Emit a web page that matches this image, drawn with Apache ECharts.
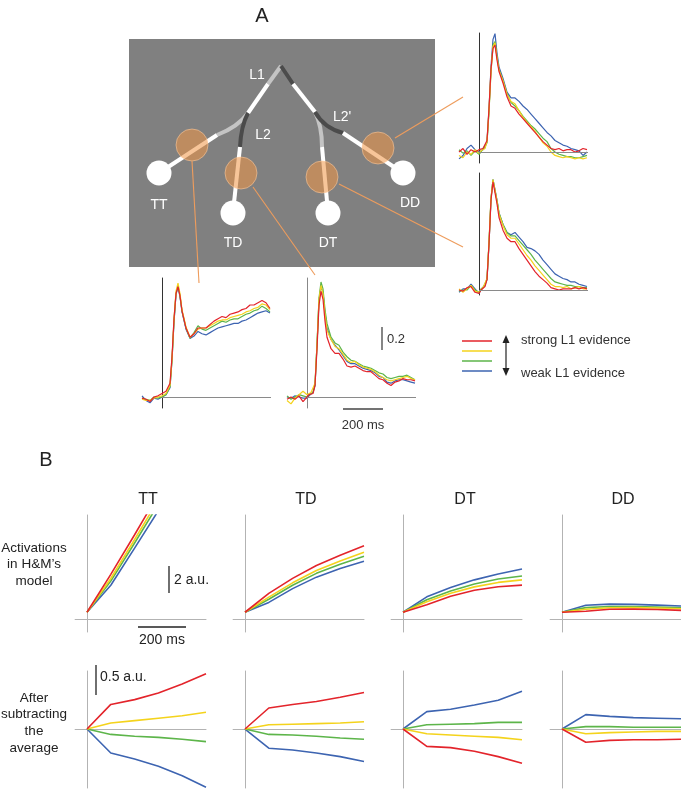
<!DOCTYPE html>
<html><head><meta charset="utf-8">
<script src="https://cdn.jsdelivr.net/npm/echarts@6/dist/echarts.min.js"></script>
<style>html,body{margin:0;padding:0;background:#fff}#c{width:681px;height:789px}</style>
</head><body><div id="c"></div>
<script>
// ---------- Panel A: recorded traces (time in ms, normalized rate) ----------
const tA = [-100,-80,-60,-40,-20,0,10,20,30,40,50,60,70,80,90,100,120,140,160,180,200,220,240,260,280,300,320,340,360,380,400,420,440,460,480,500,520,540];

const aTT_red    = [-0.01,-0.02,-0.04,0.00,0.01,0.03,0.04,0.05,0.06,0.12,0.35,0.68,0.90,0.96,0.88,0.75,0.60,0.52,0.55,0.60,0.60,0.60,0.63,0.66,0.68,0.70,0.69,0.72,0.73,0.74,0.76,0.77,0.80,0.80,0.82,0.84,0.82,0.77];
const aTT_yellow = [-0.02,-0.03,-0.03,-0.01,0.00,0.01,0.02,0.03,0.04,0.10,0.33,0.68,0.92,0.99,0.90,0.76,0.61,0.52,0.55,0.59,0.60,0.60,0.62,0.64,0.66,0.67,0.67,0.69,0.70,0.71,0.72,0.74,0.75,0.77,0.78,0.81,0.80,0.76];
const aTT_green  = [-0.01,-0.02,-0.03,0.00,-0.01,0.00,0.01,0.02,0.03,0.09,0.32,0.66,0.90,0.97,0.88,0.75,0.60,0.51,0.56,0.62,0.59,0.58,0.60,0.62,0.64,0.66,0.65,0.67,0.68,0.68,0.70,0.72,0.73,0.75,0.76,0.79,0.77,0.74];
const aTT_blue   = [0.01,-0.03,-0.05,-0.01,-0.02,0.00,0.00,0.02,0.03,0.08,0.32,0.65,0.89,0.96,0.87,0.74,0.59,0.51,0.53,0.57,0.55,0.54,0.56,0.58,0.60,0.61,0.62,0.63,0.64,0.64,0.66,0.67,0.69,0.71,0.73,0.74,0.75,0.73];

const aTD_red    = [-0.02,0.00,-0.02,0.01,-0.04,0.00,0.02,0.03,0.03,0.10,0.42,0.80,0.92,0.85,0.66,0.52,0.42,0.38,0.38,0.33,0.27,0.26,0.27,0.25,0.23,0.22,0.22,0.19,0.16,0.15,0.12,0.10,0.13,0.14,0.16,0.15,0.15,0.14];
const aTD_yellow = [-0.03,-0.06,-0.01,0.02,0.05,0.02,0.03,0.04,0.05,0.12,0.46,0.85,0.97,0.90,0.72,0.58,0.50,0.44,0.42,0.37,0.32,0.30,0.31,0.28,0.26,0.25,0.24,0.22,0.19,0.17,0.15,0.14,0.15,0.16,0.17,0.18,0.16,0.15];
const aTD_green  = [0.01,-0.02,0.00,0.02,0.01,0.00,0.02,0.03,0.04,0.11,0.46,0.86,1.00,0.94,0.76,0.64,0.52,0.47,0.45,0.39,0.35,0.32,0.31,0.29,0.27,0.26,0.25,0.23,0.21,0.20,0.17,0.16,0.17,0.18,0.18,0.19,0.17,0.15];
const aTD_blue   = [0.00,-0.01,0.01,0.00,-0.01,-0.01,0.01,0.02,0.04,0.10,0.45,0.84,0.96,0.91,0.73,0.60,0.50,0.45,0.41,0.36,0.31,0.29,0.29,0.27,0.25,0.24,0.23,0.21,0.18,0.17,0.13,0.12,0.14,0.15,0.15,0.14,0.13,0.12];

const aDT_red    = [0.00,-0.01,0.02,0.03,-0.02,-0.03,0.00,0.01,0.03,0.09,0.40,0.78,0.94,0.93,0.75,0.63,0.52,0.45,0.42,0.42,0.36,0.31,0.26,0.21,0.16,0.12,0.09,0.06,0.02,0.01,0.00,0.01,0.01,0.01,0.02,0.01,0.02,0.01];
const aDT_yellow = [0.01,-0.02,0.01,0.04,-0.01,-0.02,0.00,0.02,0.03,0.10,0.42,0.80,0.96,0.95,0.77,0.66,0.56,0.48,0.45,0.45,0.40,0.35,0.30,0.26,0.21,0.17,0.13,0.09,0.05,0.03,0.03,0.02,0.03,0.01,0.02,0.03,0.01,0.01];
const aDT_green  = [-0.01,0.00,0.00,0.04,0.00,-0.02,0.01,0.02,0.04,0.10,0.41,0.80,0.96,0.96,0.78,0.67,0.57,0.50,0.47,0.47,0.43,0.39,0.35,0.31,0.26,0.22,0.18,0.14,0.10,0.07,0.06,0.05,0.04,0.04,0.03,0.03,0.02,0.02];
const aDT_blue   = [-0.02,0.01,0.01,0.05,0.01,-0.03,0.00,0.02,0.03,0.09,0.40,0.79,0.96,0.97,0.78,0.67,0.57,0.50,0.48,0.50,0.46,0.42,0.37,0.36,0.34,0.31,0.26,0.22,0.18,0.14,0.12,0.10,0.09,0.07,0.07,0.05,0.04,0.03];

const aDD_red    = [0.00,0.03,-0.02,0.02,0.00,0.02,0.01,0.03,0.04,0.10,0.38,0.72,0.90,0.93,0.80,0.70,0.60,0.48,0.40,0.38,0.33,0.29,0.25,0.21,0.17,0.13,0.09,0.06,0.03,0.02,0.03,0.01,0.02,0.02,0.00,0.01,0.03,0.02];
const aDD_yellow = [-0.03,-0.05,0.00,-0.02,0.02,-0.01,0.01,0.02,0.03,0.09,0.36,0.70,0.92,0.95,0.82,0.71,0.62,0.50,0.44,0.42,0.36,0.30,0.26,0.22,0.18,0.13,0.08,0.05,0.00,-0.03,-0.04,-0.05,-0.04,-0.05,-0.06,-0.05,-0.06,-0.05];
const aDD_green  = [0.02,-0.01,0.01,-0.03,0.01,-0.02,0.00,0.03,0.02,0.08,0.35,0.70,0.93,0.96,0.83,0.72,0.62,0.51,0.43,0.40,0.36,0.31,0.27,0.23,0.20,0.16,0.12,0.09,0.03,0.00,-0.02,-0.03,-0.04,-0.04,-0.05,-0.05,-0.04,-0.03];
const aDD_blue   = [-0.06,-0.03,0.03,0.06,0.02,0.00,0.01,0.02,0.04,0.09,0.37,0.74,0.98,1.03,0.86,0.74,0.64,0.52,0.47,0.47,0.44,0.40,0.37,0.33,0.29,0.25,0.21,0.17,0.14,0.10,0.08,0.06,0.05,0.03,0.02,0.01,-0.03,0.00];

// ---------- Panel B: model (time in ms, a.u.) ----------
const tB = [0,100,200,300,400,500];

const bTopTT_red    = [0.5,3.31,6.24,9.25,12.25,15.2];
const bTopTT_yellow = [0.5,3.0,5.89,8.83,11.72,14.58];
const bTopTT_green  = [0.5,2.81,5.63,8.51,11.33,14.09];
const bTopTT_blue   = [0.5,2.5,5.25,8.03,10.88,13.33];
const bTopTD_red    = [0.5,1.90,3.01,3.96,4.73,5.43];
const bTopTD_yellow = [0.5,1.62,2.68,3.59,4.30,4.94];
const bTopTD_green  = [0.5,1.46,2.50,3.38,4.05,4.65];
const bTopTD_blue   = [0.5,1.23,2.25,3.10,3.74,4.28];
const bTopDT_red    = [0.5,1.06,1.69,2.13,2.39,2.51];
const bTopDT_yellow = [0.5,1.27,1.90,2.38,2.71,2.90];
const bTopDT_green  = [0.5,1.42,2.08,2.59,2.96,3.19];
const bTopDT_blue   = [0.5,1.64,2.33,2.90,3.33,3.71];
const bTopDD_red    = [0.5,0.57,0.72,0.73,0.70,0.64];
const bTopDD_yellow = [0.5,0.72,0.83,0.84,0.81,0.76];
const bTopDD_green  = [0.5,0.84,0.93,0.92,0.88,0.83];
const bTopDD_blue   = [0.5,1.02,1.10,1.08,1.03,0.96];

const bBotTT_red    = [0,0.41,0.49,0.60,0.75,0.92];
const bBotTT_yellow = [0,0.10,0.14,0.18,0.22,0.28];
const bBotTT_green  = [0,-0.09,-0.12,-0.14,-0.17,-0.21];
const bBotTT_blue   = [0,-0.40,-0.50,-0.62,-0.78,-0.97];
const bBotTD_red    = [0,0.35,0.41,0.46,0.53,0.61];
const bBotTD_yellow = [0,0.07,0.08,0.09,0.10,0.12];
const bBotTD_green  = [0,-0.09,-0.10,-0.12,-0.15,-0.17];
const bBotTD_blue   = [0,-0.32,-0.35,-0.40,-0.46,-0.54];
const bBotDT_red    = [0,-0.29,-0.31,-0.37,-0.46,-0.57];
const bBotDT_yellow = [0,-0.08,-0.10,-0.12,-0.14,-0.18];
const bBotDT_green  = [0,0.07,0.08,0.09,0.11,0.11];
const bBotDT_blue   = [0,0.29,0.33,0.40,0.48,0.63];
const bBotDD_red    = [0,-0.22,-0.19,-0.18,-0.18,-0.17];
const bBotDD_yellow = [0,-0.08,-0.06,-0.05,-0.04,-0.04];
const bBotDD_green  = [0,0.04,0.04,0.03,0.03,0.03];
const bBotDD_blue   = [0,0.24,0.21,0.19,0.18,0.17];

const conditions = ['TT','TD','DT','DD'];
const rowLabelsB = [['Activations','in H\u0026M\u2019s','model'],['After','subtracting','the','average']];
const legendTexts = ['strong L1 evidence','weak L1 evidence'];

// ---------- styling / layout ----------
const FONT = "'Liberation Sans', Arial, Helvetica, sans-serif";
const COL = {red:'#e3242b', yellow:'#f4d31c', green:'#5db54a', blue:'#3d64b1'};
const ORDER = ['blue','green','yellow','red'];

const panels = [
  // panel A
  {t:tA, d:{red:aTT_red,yellow:aTT_yellow,green:aTT_green,blue:aTT_blue}, g:[142,278,130,130], x:[-100,550], y:[-0.0957,1.035], A:true, yc:'#333'},
  {t:tA, d:{red:aTD_red,yellow:aTD_yellow,green:aTD_green,blue:aTD_blue}, g:[287,278,130,130], x:[-100,550], y:[-0.0957,1.035], A:true, yc:'#888'},
  {t:tA, d:{red:aDD_red,yellow:aDD_yellow,green:aDD_green,blue:aDD_blue}, g:[459,33,130,130],  x:[-100,550], y:[-0.0957,1.035], A:true, yc:'#333'},
  {t:tA, d:{red:aDT_red,yellow:aDT_yellow,green:aDT_green,blue:aDT_blue}, g:[459,173,130,122], x:[-100,550], y:[-0.0435,1.017], A:true, yc:'#333'},
  // panel B top
  {t:tB, d:{red:bTopTT_red,yellow:bTopTT_yellow,green:bTopTT_green,blue:bTopTT_blue}, g:[75.1,515,130.9,117], x:[-50,500], y:[-0.963,7.704]},
  {t:tB, d:{red:bTopTD_red,yellow:bTopTD_yellow,green:bTopTD_green,blue:bTopTD_blue}, g:[233.1,515,130.9,117], x:[-50,500], y:[-0.963,7.704]},
  {t:tB, d:{red:bTopDT_red,yellow:bTopDT_yellow,green:bTopDT_green,blue:bTopDT_blue}, g:[391.1,515,130.9,117], x:[-50,500], y:[-0.963,7.704]},
  {t:tB, d:{red:bTopDD_red,yellow:bTopDD_yellow,green:bTopDD_green,blue:bTopDD_blue}, g:[550.1,515,130.9,117], x:[-50,500], y:[-0.963,7.704]},
  // panel B bottom
  {t:tB, d:{red:bBotTT_red,yellow:bBotTT_yellow,green:bBotTT_green,blue:bBotTT_blue}, g:[75.1,671,130.9,117], x:[-50,500], y:[-0.983,0.967]},
  {t:tB, d:{red:bBotTD_red,yellow:bBotTD_yellow,green:bBotTD_green,blue:bBotTD_blue}, g:[233.1,671,130.9,117], x:[-50,500], y:[-0.983,0.967]},
  {t:tB, d:{red:bBotDT_red,yellow:bBotDT_yellow,green:bBotDT_green,blue:bBotDT_blue}, g:[391.1,671,130.9,117], x:[-50,500], y:[-0.983,0.967]},
  {t:tB, d:{red:bBotDD_red,yellow:bBotDD_yellow,green:bBotDD_green,blue:bBotDD_blue}, g:[550.1,671,130.9,117], x:[-50,500], y:[-0.983,0.967]}
];

const grid = [], xAxis = [], yAxis = [], series = [];
panels.forEach((p, i) => {
  grid.push({left:p.g[0], top:p.g[1], width:p.g[2], height:p.g[3], containLabel:false, outerBoundsMode:'none'});
  const hidden = {axisTick:{show:false}, axisLabel:{show:false}, splitLine:{show:false}};
  xAxis.push(Object.assign({type:'value', gridIndex:i, min:p.x[0], max:p.x[1],
    axisLine:{show:!p.A, onZero:true, lineStyle:{color:'#b3b3b3', width:1}}}, hidden));
  yAxis.push(Object.assign({type:'value', gridIndex:i, min:p.y[0], max:p.y[1],
    axisLine:{show:true, onZero:true, lineStyle:{color:p.A ? p.yc : '#b3b3b3', width:1}}}, hidden));
  ORDER.forEach((c, k) => {
    const s = {type:'line', xAxisIndex:i, yAxisIndex:i, symbol:'none', silent:true, animation:false,
      clip:true, z:3,
      data:p.t.map((tv, j) => [tv, p.d[c][j]]),
      lineStyle:{color:COL[c], width:p.A ? 1.2 : 1.6}};
    if (p.A && k === 0) {
      s.markLine = {silent:true, symbol:['none','none'], animation:false, label:{show:false},
        lineStyle:{color:'#8a8a8a', width:1, type:'solid'},
        data:[[{coord:[0,0]},{coord:[545,0]}]]};
    }
    series.push(s);
  });
});

// ---------- annotation graphics ----------
const G = [];
const txt = (s, x, y, size, fill, align, extra) => G.push(Object.assign({type:'text', x:x, y:y, z:10,
  style:{text:s, fill:fill, font:size + 'px ' + FONT, textAlign:align || 'center', textVerticalAlign:'middle', align:align || 'center', verticalAlign:'middle'}}, extra || {}));
const seg = (x1,y1,x2,y2,color,w) => G.push({type:'line', z:5, shape:{x1,y1,x2,y2}, style:{stroke:color, lineWidth:w||4, lineCap:'butt'}});
const curve = (x1,y1,cx,cy,x2,y2,color) => G.push({type:'bezierCurve', z:5, shape:{x1,y1,x2,y2,cpx1:cx,cpy1:cy}, style:{stroke:color, lineWidth:4, fill:null, lineCap:'butt'}});

// panel letters
txt('A', 262, 16, 20, '#222');
txt('B', 46, 460, 20, '#222');

// gray box with tree
G.push({type:'rect', z:1, shape:{x:129, y:39, width:306, height:228}, style:{fill:'#808080'}});
const LG = '#c4c4c4', DG = '#4b4b4b', W = '#ffffff';
seg(281,66,268,84,LG); seg(268,84,248,113,W);
seg(281,66,293,84,DG); seg(293,84,315,112,W);
curve(248,113,238,127,217,135,LG); seg(217,135,159,173,W);
curve(248,113,241,126,240,147,DG); seg(240,147,233,212,W);
curve(315,112,322,126,322,147,LG); seg(322,147,328,212,W);
curve(315,112,324,128,343,133,DG); seg(343,133,403,173,W);
[[159,173],[233,213],[328,213],[403,173]].forEach(c => G.push({type:'circle', z:6, shape:{cx:c[0], cy:c[1], r:12.5}, style:{fill:'#fff'}}));
[[192,145],[241,173],[322,177],[378,148]].forEach(c => G.push({type:'circle', z:7, shape:{cx:c[0], cy:c[1], r:16}, style:{fill:'rgba(240,150,70,0.55)', stroke:'rgba(255,205,160,0.7)', lineWidth:0.8}}));
txt('L1', 257, 75, 14, '#fff'); txt('L2', 263, 135, 14, '#fff'); txt("L2'", 342, 117, 14, '#fff');
txt(conditions[0], 159, 205, 14, '#fff'); txt(conditions[1], 233, 243, 14, '#fff');
txt(conditions[2], 328, 243, 14, '#fff'); txt(conditions[3], 410, 203, 14, '#fff');
// orange connectors
const OR = '#ee9c5c';
[[192,161,199,283],[253,187,315,275],[339,184,463,247],[395,138,463,97]].forEach(l => G.push({type:'line', z:8, shape:{x1:l[0],y1:l[1],x2:l[2],y2:l[3]}, style:{stroke:OR, lineWidth:1.1}}));

// panel A scale bars
seg(382,327,382,350,'#444',1.3); txt('0.2', 387, 339, 13, '#333', 'left');
seg(343,409,383,409,'#444',1.3); txt('200 ms', 363, 425, 13, '#333');

// legend
[['red',341],['yellow',351],['green',361],['blue',371]].forEach(l => seg(462,l[1],492,l[1],COL[l[0]],1.5));
seg(506,342,506,369,'#222',1.2);
G.push({type:'polygon', z:6, shape:{points:[[506,335],[502.5,343],[509.5,343]]}, style:{fill:'#222'}});
G.push({type:'polygon', z:6, shape:{points:[[506,376],[502.5,368],[509.5,368]]}, style:{fill:'#222'}});
txt(legendTexts[0], 521, 340, 13, '#333', 'left');
txt(legendTexts[1], 521, 373, 13, '#333', 'left');

// panel B titles
[148,306,465,623].forEach((x, i) => txt(conditions[i], x, 500, 16, '#222'));
// row labels
rowLabelsB[0].forEach((s, i) => txt(s, 34, 548 + i * 16.6, 13.5, '#222'));
rowLabelsB[1].forEach((s, i) => txt(s, 34, 698 + i * 16.6, 13.5, '#222'));
// panel B scale bars
seg(138,627,186,627,'#222',1.3); txt('200 ms', 162, 640, 14, '#222');
seg(169,566,169,593,'#222',1.3); txt('2 a.u.', 174, 580, 14, '#222', 'left');
seg(96,665,96,695,'#222',1.3); txt('0.5 a.u.', 100, 677, 14, '#222', 'left');

const chart = echarts.init(document.getElementById('c'), null, {renderer:'canvas'});
chart.setOption({animation:false, backgroundColor:'#fff', grid, xAxis, yAxis, series, graphic:{elements:G}});
</script></body></html>
